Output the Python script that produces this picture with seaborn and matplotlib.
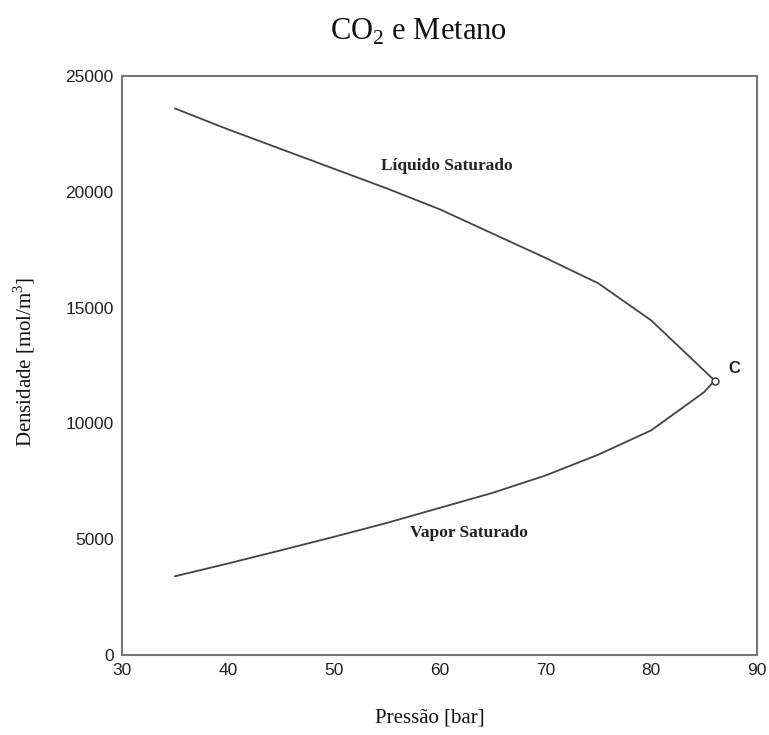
import numpy as np
import pandas as pd
import matplotlib
matplotlib.use("Agg")
import matplotlib.pyplot as plt
import seaborn as sns

# pressure [bar] and density [mol/m3]
pressao_liq = [35, 40, 45, 50, 55, 60, 65, 70, 75, 80, 86]
dens_liq = [23600, 22700, 21850, 21000, 20150, 19250, 18200, 17150, 16050, 14450, 11850]
pressao_vap = [35, 40, 45, 50, 55, 60, 65, 70, 75, 80, 85, 86]
dens_vap = [3400, 3950, 4520, 5100, 5700, 6350, 7000, 7750, 8650, 9700, 11350, 11850]
ponto_critico = (86, 11850)

x_ticks = [30, 40, 50, 60, 70, 80, 90]
y_ticks = [0, 5000, 10000, 15000, 20000, 25000]

df = pd.concat([
    pd.DataFrame({"p": pressao_liq, "rho": dens_liq, "curva": "liq"}),
    pd.DataFrame({"p": pressao_vap, "rho": dens_vap, "curva": "vap"}),
])

sns.set_style("white")
serif = ["Liberation Serif", "DejaVu Serif"]
sans = ["Liberation Sans", "DejaVu Sans"]
plt.rcParams["font.family"] = sans
plt.rcParams["mathtext.fontset"] = "custom"
plt.rcParams["mathtext.rm"] = "Liberation Serif"

fig = plt.figure(figsize=(7.69, 7.35), dpi=100)
ax = fig.add_axes([0.1586, 0.1088, 0.8258, 0.7878])

for nome, grupo in df.groupby("curva"):
    sns.lineplot(data=grupo, x="p", y="rho", sort=False, ax=ax, color="#444444",
                 linewidth=1.3, legend=False)

ax.plot(*ponto_critico, marker="o", markersize=5, markerfacecolor="white",
        markeredgecolor="#333333", markeredgewidth=1.0, zorder=5)
ax.text(87.3, 12350, "C", fontsize=12, fontweight="bold", family=sans, color="#222222",
        va="center", ha="left")

ax.text(60.7, 21100, "Líquido Saturado", fontsize=12.5, fontweight="bold", family=serif,
        ha="center", va="center", color="#222222")
ax.text(62.8, 5260, "Vapor Saturado", fontsize=12.5, fontweight="bold", family=serif,
        ha="center", va="center", color="#222222")

ax.set_xlim(30, 90)
ax.set_ylim(0, 25000)
ax.set_xticks(x_ticks)
ax.set_yticks(y_ticks)
ax.tick_params(length=0, labelsize=12.5, colors="#222222", pad=6)
ax.set_xlabel("")
ax.set_ylabel("")
for s in ax.spines.values():
    s.set_color("#777777")
    s.set_linewidth(1.5)

fig.text(418 / 769, 1 - 32 / 735, r"CO$_2$ e Metano", family=serif, fontsize=22,
         ha="center", va="center", color="#111111")
fig.text(430 / 769, 1 - 718 / 735, "Pressão [bar]", family=serif, fontsize=15,
         ha="center", va="center", color="#111111")
fig.text(24 / 769, 1 - 362 / 735, r"Densidade [mol/m$^3$]", family=serif, fontsize=15,
         ha="center", va="center", rotation=90, color="#111111")

fig.savefig("out.png", dpi=100)
